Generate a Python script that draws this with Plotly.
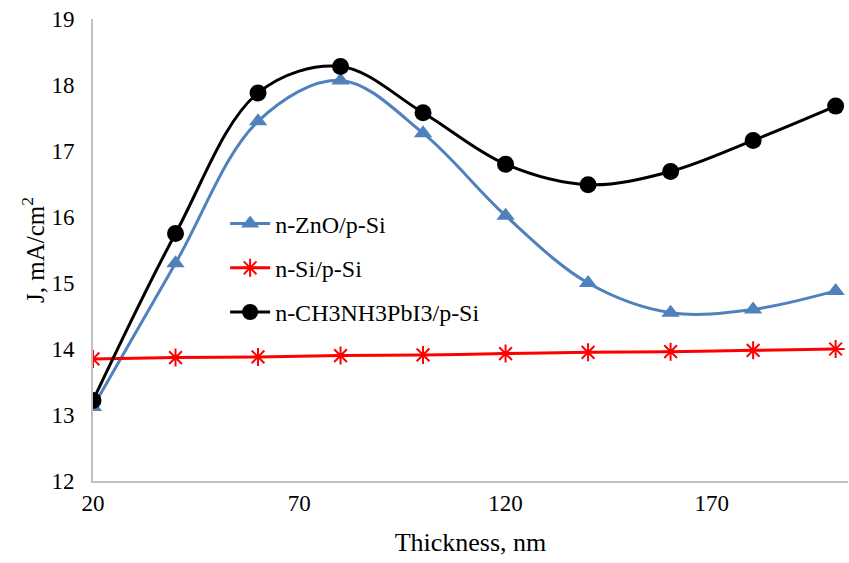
import plotly.graph_objects as go

thickness = [20, 40, 60, 80, 100, 120, 140, 160, 180, 200]
zno = [13.12, 15.30, 17.45, 18.07, 17.27, 16.02, 15.00, 14.55, 14.60, 14.88]
si = [13.85, 13.87, 13.88, 13.90, 13.91, 13.93, 13.95, 13.96, 13.98, 14.00]
perov = [13.22, 15.75, 17.88, 18.28, 17.58, 16.80, 16.49, 16.69, 17.16, 17.68]

font_family = "Liberation Serif, Times New Roman, serif"

fig = go.Figure()
fig.add_trace(go.Scatter(
    x=thickness, y=zno, name="n-ZnO/p-Si", mode="lines+markers",
    line=dict(color="#4F81BD", width=3, shape="spline", smoothing=1),
    marker=dict(symbol="triangle-up", size=16, color="#4F81BD"),
    legendgroup="a"))
fig.add_trace(go.Scatter(
    x=thickness, y=si, name="n-Si/p-Si", mode="lines+markers",
    line=dict(color="#FF0000", width=3, shape="spline", smoothing=1),
    marker=dict(symbol="asterisk-open", size=15, color="#FF0000",
                line=dict(color="#FF0000", width=2)),
    legendgroup="b"))
fig.add_trace(go.Scatter(
    x=thickness, y=perov, name="n-CH3NH3PbI3/p-Si", mode="lines+markers",
    line=dict(color="#000000", width=3, shape="spline", smoothing=1),
    marker=dict(symbol="circle", size=17, color="#000000"),
    legendgroup="c"))

fig.update_layout(
    width=849, height=563,
    margin=dict(l=93, r=1, t=19, b=82),
    paper_bgcolor="white", plot_bgcolor="white",
    font=dict(family=font_family, size=23, color="#000000"),
    showlegend=True,
    legend=dict(x=0.175, y=0.605, xanchor="left", yanchor="top",
                bgcolor="rgba(0,0,0,0)", font=dict(family=font_family, size=24, color="#000000"),
                tracegroupgap=10, itemwidth=40),
    xaxis=dict(range=[20, 203], tickvals=[20, 70, 120, 170],
               showgrid=False, zeroline=False,
               showline=True, linecolor="#BFBFBF", linewidth=2,
               ticks="", ticklen=0,
               title=dict(text="Thickness, nm", font=dict(family=font_family, size=26, color="#000000"), standoff=18),
               tickfont=dict(family=font_family, size=23, color="#000000")),
    yaxis=dict(range=[12, 19], dtick=1,
               showgrid=False, zeroline=False,
               showline=True, linecolor="#BFBFBF", linewidth=2,
               ticks="", ticklen=0, ticklabelstandoff=12,
               title=dict(text="J, mA/cm<sup>2</sup>", font=dict(family=font_family, size=25, color="#000000"), standoff=0),
               tickfont=dict(family=font_family, size=23, color="#000000")),
)

fig.write_html("out.html")
